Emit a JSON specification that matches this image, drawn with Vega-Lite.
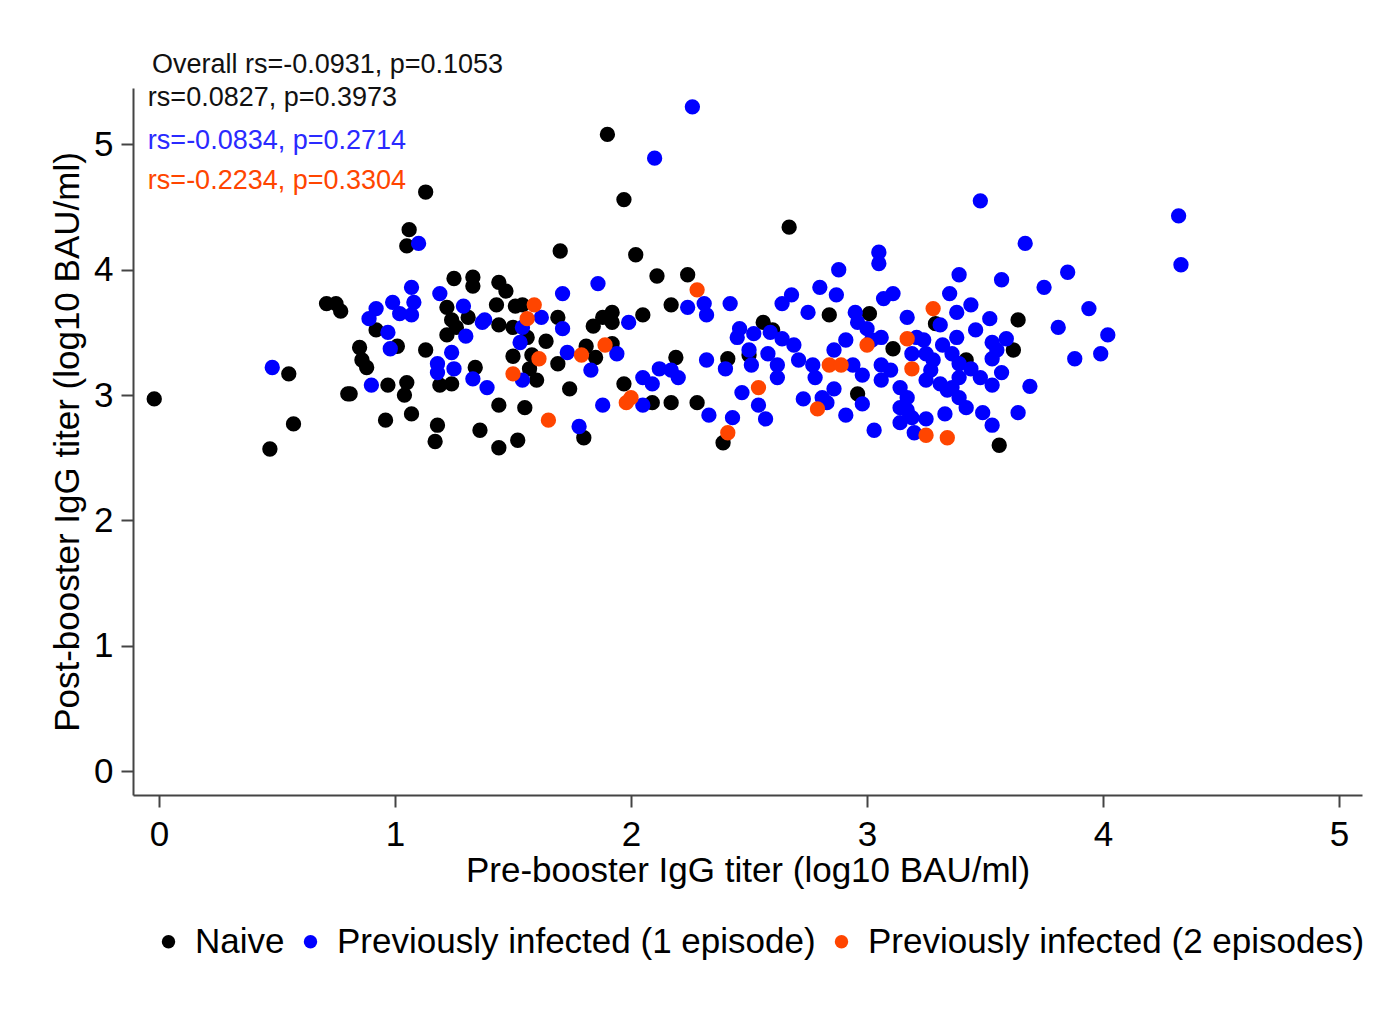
{
"$schema": "https://vega.github.io/schema/vega-lite/v6.json",
"width": 1229, "height": 707,
"autosize": {"type": "none"},
"padding": {"left": 133, "top": 88, "right": 32, "bottom": 218},
"background": "white",
"config": {
 "view": {"stroke": null},
 "font": "Liberation Sans",
 "axis": {"grid": false, "domainColor": "#444", "domainWidth": 2, "tickColor": "#444", "tickWidth": 2, "tickSize": 12,
  "labelFontSize": 35, "titleFontSize": 35, "labelColor": "#000", "titleColor": "#000", "titleFontWeight": "normal",
  "labelFont": "Liberation Sans", "titleFont": "Liberation Sans"},
 "legend": {"labelFont": "Liberation Sans"}
},
"datasets": {
"pts": [
{"x":-0.02,"y":2.97,"g":"Naive"},{"x":0.47,"y":2.57,"g":"Naive"},{"x":0.55,"y":3.17,"g":"Naive"},{"x":0.57,"y":2.77,"g":"Naive"},
{"x":0.71,"y":3.73,"g":"Naive"},{"x":0.75,"y":3.73,"g":"Naive"},{"x":0.77,"y":3.67,"g":"Naive"},{"x":0.80,"y":3.01,"g":"Naive"},
{"x":0.81,"y":3.01,"g":"Naive"},{"x":0.85,"y":3.38,"g":"Naive"},{"x":0.86,"y":3.28,"g":"Naive"},{"x":0.88,"y":3.22,"g":"Naive"},
{"x":0.92,"y":3.52,"g":"Naive"},{"x":0.97,"y":3.08,"g":"Naive"},{"x":0.96,"y":2.80,"g":"Naive"},{"x":1.01,"y":3.39,"g":"Naive"},
{"x":1.05,"y":3.10,"g":"Naive"},{"x":1.04,"y":3.00,"g":"Naive"},{"x":1.07,"y":2.85,"g":"Naive"},{"x":1.06,"y":4.32,"g":"Naive"},
{"x":1.05,"y":4.19,"g":"Naive"},{"x":1.13,"y":4.62,"g":"Naive"},{"x":1.13,"y":3.36,"g":"Naive"},{"x":1.18,"y":2.76,"g":"Naive"},
{"x":1.17,"y":2.63,"g":"Naive"},{"x":1.19,"y":3.08,"g":"Naive"},{"x":1.24,"y":3.09,"g":"Naive"},{"x":1.25,"y":3.93,"g":"Naive"},
{"x":1.33,"y":3.94,"g":"Naive"},{"x":1.33,"y":3.87,"g":"Naive"},{"x":1.22,"y":3.70,"g":"Naive"},{"x":1.24,"y":3.60,"g":"Naive"},
{"x":1.22,"y":3.48,"g":"Naive"},{"x":1.26,"y":3.54,"g":"Naive"},{"x":1.31,"y":3.62,"g":"Naive"},{"x":1.34,"y":3.22,"g":"Naive"},
{"x":1.36,"y":2.72,"g":"Naive"},{"x":1.44,"y":2.92,"g":"Naive"},{"x":1.55,"y":2.90,"g":"Naive"},{"x":1.44,"y":2.58,"g":"Naive"},
{"x":1.52,"y":2.64,"g":"Naive"},{"x":1.44,"y":3.90,"g":"Naive"},{"x":1.47,"y":3.83,"g":"Naive"},{"x":1.43,"y":3.72,"g":"Naive"},
{"x":1.51,"y":3.71,"g":"Naive"},{"x":1.54,"y":3.72,"g":"Naive"},{"x":1.44,"y":3.56,"g":"Naive"},{"x":1.50,"y":3.54,"g":"Naive"},
{"x":1.56,"y":3.46,"g":"Naive"},{"x":1.64,"y":3.43,"g":"Naive"},{"x":1.50,"y":3.31,"g":"Naive"},{"x":1.58,"y":3.32,"g":"Naive"},
{"x":1.69,"y":3.25,"g":"Naive"},{"x":1.57,"y":3.21,"g":"Naive"},{"x":1.60,"y":3.12,"g":"Naive"},{"x":1.70,"y":4.15,"g":"Naive"},
{"x":1.69,"y":3.62,"g":"Naive"},{"x":1.74,"y":3.05,"g":"Naive"},{"x":1.80,"y":2.66,"g":"Naive"},{"x":1.84,"y":3.55,"g":"Naive"},
{"x":1.88,"y":3.62,"g":"Naive"},{"x":1.92,"y":3.66,"g":"Naive"},{"x":1.92,"y":3.58,"g":"Naive"},{"x":1.81,"y":3.39,"g":"Naive"},
{"x":1.85,"y":3.30,"g":"Naive"},{"x":1.92,"y":3.41,"g":"Naive"},{"x":2.05,"y":3.64,"g":"Naive"},{"x":1.97,"y":3.09,"g":"Naive"},
{"x":1.90,"y":5.08,"g":"Naive"},{"x":1.97,"y":4.56,"g":"Naive"},{"x":2.02,"y":4.12,"g":"Naive"},{"x":2.11,"y":3.95,"g":"Naive"},
{"x":2.24,"y":3.96,"g":"Naive"},{"x":2.17,"y":3.72,"g":"Naive"},{"x":2.19,"y":3.30,"g":"Naive"},{"x":2.09,"y":2.94,"g":"Naive"},
{"x":2.17,"y":2.94,"g":"Naive"},{"x":2.28,"y":2.94,"g":"Naive"},{"x":2.39,"y":2.62,"g":"Naive"},{"x":2.56,"y":3.58,"g":"Naive"},
{"x":2.60,"y":3.52,"g":"Naive"},{"x":2.41,"y":3.29,"g":"Naive"},{"x":2.50,"y":3.32,"g":"Naive"},{"x":2.67,"y":4.34,"g":"Naive"},
{"x":2.84,"y":3.64,"g":"Naive"},{"x":3.01,"y":3.65,"g":"Naive"},{"x":3.11,"y":3.37,"g":"Naive"},{"x":2.96,"y":3.01,"g":"Naive"},
{"x":3.29,"y":3.57,"g":"Naive"},{"x":3.42,"y":3.28,"g":"Naive"},{"x":3.64,"y":3.60,"g":"Naive"},{"x":3.62,"y":3.36,"g":"Naive"},
{"x":3.56,"y":2.60,"g":"Naive"},
{"x":0.48,"y":3.22,"g":"Previously infected (1 episode)"},{"x":0.90,"y":3.08,"g":"Previously infected (1 episode)"},
{"x":1.10,"y":4.21,"g":"Previously infected (1 episode)"},{"x":1.07,"y":3.86,"g":"Previously infected (1 episode)"},
{"x":1.19,"y":3.81,"g":"Previously infected (1 episode)"},{"x":0.99,"y":3.74,"g":"Previously infected (1 episode)"},
{"x":0.92,"y":3.69,"g":"Previously infected (1 episode)"},{"x":0.89,"y":3.61,"g":"Previously infected (1 episode)"},
{"x":1.02,"y":3.65,"g":"Previously infected (1 episode)"},{"x":1.07,"y":3.64,"g":"Previously infected (1 episode)"},
{"x":1.08,"y":3.74,"g":"Previously infected (1 episode)"},{"x":0.97,"y":3.50,"g":"Previously infected (1 episode)"},
{"x":0.98,"y":3.37,"g":"Previously infected (1 episode)"},{"x":1.29,"y":3.71,"g":"Previously infected (1 episode)"},
{"x":1.37,"y":3.58,"g":"Previously infected (1 episode)"},{"x":1.30,"y":3.47,"g":"Previously infected (1 episode)"},
{"x":1.24,"y":3.34,"g":"Previously infected (1 episode)"},{"x":1.25,"y":3.21,"g":"Previously infected (1 episode)"},
{"x":1.18,"y":3.25,"g":"Previously infected (1 episode)"},{"x":1.18,"y":3.18,"g":"Previously infected (1 episode)"},
{"x":1.33,"y":3.13,"g":"Previously infected (1 episode)"},{"x":1.39,"y":3.06,"g":"Previously infected (1 episode)"},
{"x":1.71,"y":3.81,"g":"Previously infected (1 episode)"},{"x":1.86,"y":3.89,"g":"Previously infected (1 episode)"},
{"x":1.38,"y":3.60,"g":"Previously infected (1 episode)"},{"x":1.54,"y":3.54,"g":"Previously infected (1 episode)"},
{"x":1.62,"y":3.62,"g":"Previously infected (1 episode)"},{"x":1.53,"y":3.42,"g":"Previously infected (1 episode)"},
{"x":1.71,"y":3.53,"g":"Previously infected (1 episode)"},{"x":1.73,"y":3.34,"g":"Previously infected (1 episode)"},
{"x":1.83,"y":3.20,"g":"Previously infected (1 episode)"},{"x":1.94,"y":3.33,"g":"Previously infected (1 episode)"},
{"x":1.99,"y":3.58,"g":"Previously infected (1 episode)"},{"x":1.54,"y":3.12,"g":"Previously infected (1 episode)"},
{"x":1.88,"y":2.92,"g":"Previously infected (1 episode)"},{"x":2.05,"y":3.14,"g":"Previously infected (1 episode)"},
{"x":2.09,"y":3.09,"g":"Previously infected (1 episode)"},{"x":2.12,"y":3.21,"g":"Previously infected (1 episode)"},
{"x":2.17,"y":3.20,"g":"Previously infected (1 episode)"},{"x":2.20,"y":3.14,"g":"Previously infected (1 episode)"},
{"x":2.05,"y":2.92,"g":"Previously infected (1 episode)"},{"x":1.78,"y":2.75,"g":"Previously infected (1 episode)"},
{"x":2.24,"y":3.70,"g":"Previously infected (1 episode)"},{"x":2.31,"y":3.73,"g":"Previously infected (1 episode)"},
{"x":2.32,"y":3.64,"g":"Previously infected (1 episode)"},{"x":2.32,"y":3.28,"g":"Previously infected (1 episode)"},
{"x":2.40,"y":3.21,"g":"Previously infected (1 episode)"},{"x":2.33,"y":2.84,"g":"Previously infected (1 episode)"},
{"x":2.26,"y":5.30,"g":"Previously infected (1 episode)"},{"x":2.10,"y":4.89,"g":"Previously infected (1 episode)"},
{"x":2.42,"y":3.73,"g":"Previously infected (1 episode)"},{"x":2.64,"y":3.73,"g":"Previously infected (1 episode)"},
{"x":2.68,"y":3.80,"g":"Previously infected (1 episode)"},{"x":2.80,"y":3.86,"g":"Previously infected (1 episode)"},
{"x":2.87,"y":3.80,"g":"Previously infected (1 episode)"},{"x":2.75,"y":3.66,"g":"Previously infected (1 episode)"},
{"x":2.46,"y":3.53,"g":"Previously infected (1 episode)"},{"x":2.45,"y":3.46,"g":"Previously infected (1 episode)"},
{"x":2.52,"y":3.49,"g":"Previously infected (1 episode)"},{"x":2.59,"y":3.50,"g":"Previously infected (1 episode)"},
{"x":2.64,"y":3.45,"g":"Previously infected (1 episode)"},{"x":2.69,"y":3.40,"g":"Previously infected (1 episode)"},
{"x":2.50,"y":3.36,"g":"Previously infected (1 episode)"},{"x":2.58,"y":3.33,"g":"Previously infected (1 episode)"},
{"x":2.51,"y":3.24,"g":"Previously infected (1 episode)"},{"x":2.62,"y":3.24,"g":"Previously infected (1 episode)"},
{"x":2.62,"y":3.14,"g":"Previously infected (1 episode)"},{"x":2.71,"y":3.28,"g":"Previously infected (1 episode)"},
{"x":2.77,"y":3.24,"g":"Previously infected (1 episode)"},{"x":2.78,"y":3.14,"g":"Previously infected (1 episode)"},
{"x":2.47,"y":3.02,"g":"Previously infected (1 episode)"},{"x":2.54,"y":2.92,"g":"Previously infected (1 episode)"},
{"x":2.57,"y":2.81,"g":"Previously infected (1 episode)"},{"x":2.43,"y":2.82,"g":"Previously infected (1 episode)"},
{"x":2.73,"y":2.97,"g":"Previously infected (1 episode)"},{"x":2.81,"y":2.98,"g":"Previously infected (1 episode)"},
{"x":2.86,"y":3.05,"g":"Previously infected (1 episode)"},{"x":2.83,"y":2.94,"g":"Previously infected (1 episode)"},
{"x":2.91,"y":2.84,"g":"Previously infected (1 episode)"},{"x":2.86,"y":3.36,"g":"Previously infected (1 episode)"},
{"x":2.91,"y":3.44,"g":"Previously infected (1 episode)"},{"x":2.95,"y":3.66,"g":"Previously infected (1 episode)"},
{"x":2.96,"y":3.58,"g":"Previously infected (1 episode)"},{"x":3.00,"y":3.53,"g":"Previously infected (1 episode)"},
{"x":3.06,"y":3.46,"g":"Previously infected (1 episode)"},{"x":3.02,"y":3.44,"g":"Previously infected (1 episode)"},
{"x":2.94,"y":3.24,"g":"Previously infected (1 episode)"},{"x":2.98,"y":3.16,"g":"Previously infected (1 episode)"},
{"x":2.98,"y":2.93,"g":"Previously infected (1 episode)"},{"x":3.06,"y":3.24,"g":"Previously infected (1 episode)"},
{"x":3.10,"y":3.20,"g":"Previously infected (1 episode)"},{"x":3.06,"y":3.12,"g":"Previously infected (1 episode)"},
{"x":3.03,"y":2.72,"g":"Previously infected (1 episode)"},{"x":3.07,"y":3.77,"g":"Previously infected (1 episode)"},
{"x":3.11,"y":3.81,"g":"Previously infected (1 episode)"},{"x":3.17,"y":3.62,"g":"Previously infected (1 episode)"},
{"x":3.21,"y":3.46,"g":"Previously infected (1 episode)"},{"x":3.24,"y":3.44,"g":"Previously infected (1 episode)"},
{"x":3.19,"y":3.33,"g":"Previously infected (1 episode)"},{"x":3.25,"y":3.33,"g":"Previously infected (1 episode)"},
{"x":3.28,"y":3.28,"g":"Previously infected (1 episode)"},{"x":3.27,"y":3.20,"g":"Previously infected (1 episode)"},
{"x":3.14,"y":3.06,"g":"Previously infected (1 episode)"},{"x":3.17,"y":2.98,"g":"Previously infected (1 episode)"},
{"x":3.14,"y":2.90,"g":"Previously infected (1 episode)"},{"x":3.17,"y":2.88,"g":"Previously infected (1 episode)"},
{"x":3.25,"y":3.12,"g":"Previously infected (1 episode)"},{"x":3.31,"y":3.09,"g":"Previously infected (1 episode)"},
{"x":3.34,"y":3.04,"g":"Previously infected (1 episode)"},{"x":3.19,"y":2.82,"g":"Previously infected (1 episode)"},
{"x":3.25,"y":2.81,"g":"Previously infected (1 episode)"},{"x":3.20,"y":2.70,"g":"Previously infected (1 episode)"},
{"x":3.14,"y":2.78,"g":"Previously infected (1 episode)"},{"x":3.33,"y":2.85,"g":"Previously infected (1 episode)"},
{"x":3.35,"y":3.81,"g":"Previously infected (1 episode)"},{"x":3.38,"y":3.66,"g":"Previously infected (1 episode)"},
{"x":3.31,"y":3.56,"g":"Previously infected (1 episode)"},{"x":3.38,"y":3.46,"g":"Previously infected (1 episode)"},
{"x":3.32,"y":3.40,"g":"Previously infected (1 episode)"},{"x":3.36,"y":3.33,"g":"Previously infected (1 episode)"},
{"x":3.39,"y":3.25,"g":"Previously infected (1 episode)"},{"x":3.39,"y":3.14,"g":"Previously infected (1 episode)"},
{"x":3.36,"y":3.06,"g":"Previously infected (1 episode)"},{"x":3.39,"y":2.98,"g":"Previously infected (1 episode)"},
{"x":3.39,"y":3.96,"g":"Previously infected (1 episode)"},{"x":3.57,"y":3.92,"g":"Previously infected (1 episode)"},
{"x":3.75,"y":3.86,"g":"Previously infected (1 episode)"},{"x":3.85,"y":3.98,"g":"Previously infected (1 episode)"},
{"x":3.44,"y":3.72,"g":"Previously infected (1 episode)"},{"x":3.52,"y":3.61,"g":"Previously infected (1 episode)"},
{"x":3.46,"y":3.52,"g":"Previously infected (1 episode)"},{"x":3.53,"y":3.42,"g":"Previously infected (1 episode)"},
{"x":3.59,"y":3.45,"g":"Previously infected (1 episode)"},{"x":3.55,"y":3.36,"g":"Previously infected (1 episode)"},
{"x":3.53,"y":3.29,"g":"Previously infected (1 episode)"},{"x":3.44,"y":3.21,"g":"Previously infected (1 episode)"},
{"x":3.48,"y":3.14,"g":"Previously infected (1 episode)"},{"x":3.53,"y":3.08,"g":"Previously infected (1 episode)"},
{"x":3.57,"y":3.18,"g":"Previously infected (1 episode)"},{"x":3.49,"y":2.86,"g":"Previously infected (1 episode)"},
{"x":3.53,"y":2.76,"g":"Previously infected (1 episode)"},{"x":3.64,"y":2.86,"g":"Previously infected (1 episode)"},
{"x":3.69,"y":3.07,"g":"Previously infected (1 episode)"},{"x":3.81,"y":3.54,"g":"Previously infected (1 episode)"},
{"x":3.94,"y":3.69,"g":"Previously infected (1 episode)"},{"x":4.02,"y":3.48,"g":"Previously infected (1 episode)"},
{"x":3.99,"y":3.33,"g":"Previously infected (1 episode)"},{"x":3.88,"y":3.29,"g":"Previously infected (1 episode)"},
{"x":3.48,"y":4.55,"g":"Previously infected (1 episode)"},{"x":3.67,"y":4.21,"g":"Previously infected (1 episode)"},
{"x":4.32,"y":4.43,"g":"Previously infected (1 episode)"},{"x":4.33,"y":4.04,"g":"Previously infected (1 episode)"},
{"x":2.88,"y":4.00,"g":"Previously infected (1 episode)"},{"x":3.05,"y":4.14,"g":"Previously infected (1 episode)"},
{"x":3.05,"y":4.05,"g":"Previously infected (1 episode)"},{"x":3.42,"y":2.90,"g":"Previously infected (1 episode)"},
{"x":1.59,"y":3.72,"g":"Previously infected (2 episodes)"},{"x":1.56,"y":3.61,"g":"Previously infected (2 episodes)"},
{"x":1.89,"y":3.40,"g":"Previously infected (2 episodes)"},{"x":1.79,"y":3.32,"g":"Previously infected (2 episodes)"},
{"x":1.61,"y":3.29,"g":"Previously infected (2 episodes)"},{"x":1.50,"y":3.17,"g":"Previously infected (2 episodes)"},
{"x":1.98,"y":2.94,"g":"Previously infected (2 episodes)"},{"x":2.00,"y":2.98,"g":"Previously infected (2 episodes)"},
{"x":1.65,"y":2.80,"g":"Previously infected (2 episodes)"},{"x":2.28,"y":3.84,"g":"Previously infected (2 episodes)"},
{"x":2.41,"y":2.70,"g":"Previously infected (2 episodes)"},{"x":2.54,"y":3.06,"g":"Previously infected (2 episodes)"},
{"x":2.79,"y":2.89,"g":"Previously infected (2 episodes)"},{"x":2.84,"y":3.24,"g":"Previously infected (2 episodes)"},
{"x":2.89,"y":3.24,"g":"Previously infected (2 episodes)"},{"x":3.00,"y":3.40,"g":"Previously infected (2 episodes)"},
{"x":3.17,"y":3.45,"g":"Previously infected (2 episodes)"},{"x":3.19,"y":3.21,"g":"Previously infected (2 episodes)"},
{"x":3.28,"y":3.69,"g":"Previously infected (2 episodes)"},{"x":3.25,"y":2.68,"g":"Previously infected (2 episodes)"},
{"x":3.34,"y":2.66,"g":"Previously infected (2 episodes)"}
],
"notes": [
{"t":"Overall rs=-0.0931, p=0.1053","x":-0.03,"y":5.63,"k":"o"},
{"t":"rs=0.0827, p=0.3973","x":-0.047,"y":5.37,"k":"n"},
{"t":"rs=-0.0834, p=0.2714","x":-0.047,"y":5.03,"k":"b"},
{"t":"rs=-0.2234, p=0.3304","x":-0.047,"y":4.71,"k":"r"}
]
},
"layer": [
{
 "data": {"name": "pts"},
 "mark": {"type": "circle", "size": 235, "opacity": 1, "strokeWidth": 0},
 "encoding": {
  "x": {"field": "x", "type": "quantitative",
   "scale": {"domain": [-0.11, 5.097], "nice": false, "zero": false},
   "axis": {"values": [0,1,2,3,4,5], "format": "d", "title": "Pre-booster IgG titer (log10 BAU/ml)", "labelPadding": 10, "titlePadding": 1}},
  "y": {"field": "y", "type": "quantitative",
   "scale": {"domain": [-0.19, 5.45], "nice": false, "zero": false},
   "axis": {"values": [0,1,2,3,4,5], "format": "d", "title": "Post-booster IgG titer (log10 BAU/ml)", "labelPadding": 8, "titlePadding": 8}},
  "color": {"field": "g", "type": "nominal",
   "scale": {"domain": ["Naive", "Previously infected (1 episode)", "Previously infected (2 episodes)"], "range": ["#000000", "#0000FF", "#FF4500"]},
   "legend": {"orient": "none", "legendX": 18, "legendY": 836, "direction": "horizontal", "title": null,
    "symbolType": "circle", "symbolSize": 180, "symbolStrokeWidth": 0, "labelFontSize": 35, "labelColor": "#000",
    "labelOffset": 9, "columnPadding": 8, "labelLimit": 1000, "padding": 0}}
 }
},
{"data": {"name": "notes"}, "transform": [{"filter": "datum.k == 'o' || datum.k == 'n'"}],
 "mark": {"type": "text", "align": "left", "baseline": "middle", "fontSize": 27, "color": "#111111", "font": "Liberation Sans"},
 "encoding": {"x": {"field": "x", "type": "quantitative"}, "y": {"field": "y", "type": "quantitative"}, "text": {"field": "t"}}},
{"data": {"name": "notes"}, "transform": [{"filter": "datum.k == 'b'"}],
 "mark": {"type": "text", "align": "left", "baseline": "middle", "fontSize": 27, "color": "#2A2AFF", "font": "Liberation Sans"},
 "encoding": {"x": {"field": "x", "type": "quantitative"}, "y": {"field": "y", "type": "quantitative"}, "text": {"field": "t"}}},
{"data": {"name": "notes"}, "transform": [{"filter": "datum.k == 'r'"}],
 "mark": {"type": "text", "align": "left", "baseline": "middle", "fontSize": 27, "color": "#FF4500", "font": "Liberation Sans"},
 "encoding": {"x": {"field": "x", "type": "quantitative"}, "y": {"field": "y", "type": "quantitative"}, "text": {"field": "t"}}}
]
}
